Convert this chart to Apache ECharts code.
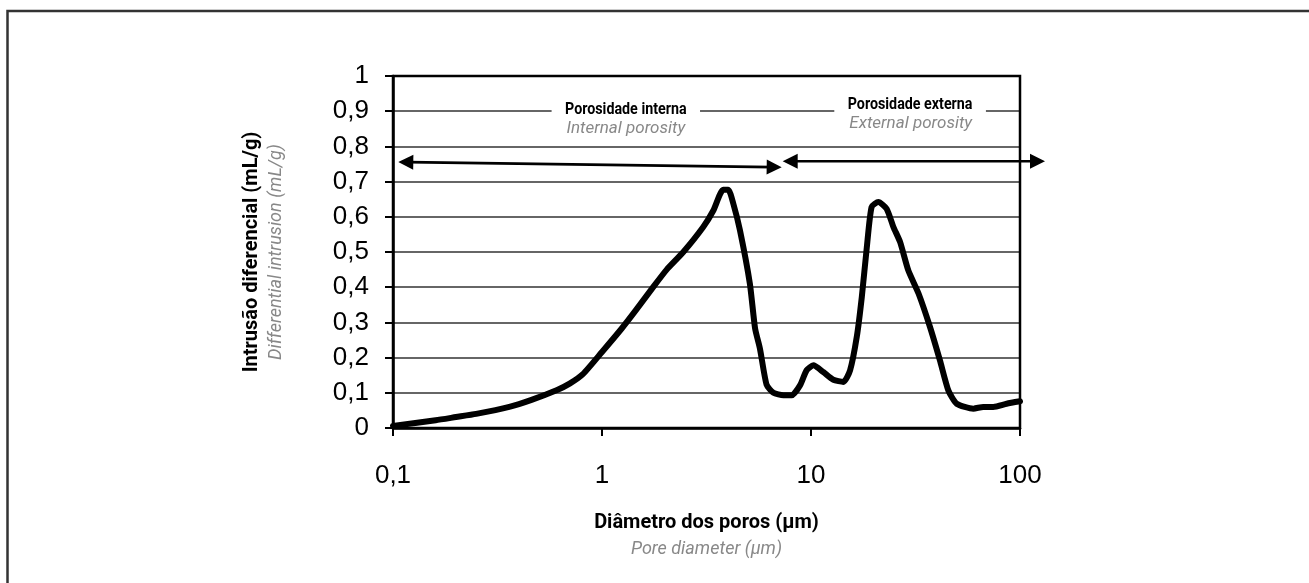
<!DOCTYPE html>
<html><head><meta charset="utf-8">
<script src="https://cdn.jsdelivr.net/npm/echarts@6/dist/echarts.min.js"></script>
<style>html,body{margin:0;padding:0;background:#fff}#c{width:1309px;height:583px}</style>
</head><body><div id="c"></div>
<script>
// ---- data ----
const poreDiameter = [0.1, 0.16, 0.2, 0.25, 0.36, 0.46, 0.61, 0.7, 0.81, 1.0, 1.24, 1.45, 1.76, 2.04, 2.45, 3.05, 3.41, 3.8, 4.02, 4.25, 4.57, 5.1, 5.4, 5.7, 6.13, 6.61, 7.38, 8.09, 8.86, 9.53, 10.26, 11.45, 12.79, 14.28, 15.38, 16.56, 17.5, 18.5, 19.5, 21.0, 23.0, 24.8, 26.7, 29.2, 32.7, 37.1, 41.4, 45.4, 49.8, 59.8, 66.7, 74.5, 86.3, 100];
const diffIntrusion = [0.006, 0.022, 0.031, 0.04, 0.06, 0.08, 0.108, 0.126, 0.153, 0.216, 0.282, 0.334, 0.401, 0.45, 0.5, 0.571, 0.618, 0.677, 0.677, 0.637, 0.562, 0.41, 0.283, 0.225, 0.123, 0.1, 0.093, 0.093, 0.121, 0.164, 0.178, 0.159, 0.137, 0.131, 0.164, 0.259, 0.372, 0.514, 0.628, 0.642, 0.623, 0.571, 0.528, 0.448, 0.382, 0.287, 0.192, 0.107, 0.069, 0.055, 0.06, 0.06, 0.069, 0.076];
const xTickValues = [0.1, 1, 10, 100];
const xTickLabels = ['0,1', '1', '10', '100'];
const yTickLabels = ['0', '0,1', '0,2', '0,3', '0,4', '0,5', '0,6', '0,7', '0,8', '0,9', '1'];
const xAxisTitle = 'Diâmetro dos poros (μm)';
const xAxisSubtitle = 'Pore diameter (μm)';
const yAxisTitle = 'Intrusão diferencial (mL/g)';
const yAxisSubtitle = 'Differential intrusion (mL/g)';
// annotations (data coordinates)
const annotationTexts = ['Porosidade interna', 'Internal porosity', 'Porosidade externa', 'External porosity'];
const annotationX = [1.30, 1.30, 29.8, 30.0];
const annotationY = [0.905, 0.849, 0.917, 0.863];
const annotationKind = ['pt', 'en', 'pt', 'en'];
// double-headed arrows (data coordinates)
const arrowStartX = [0.106, 7.32];
const arrowStartY = [0.7557, 0.7577];
const arrowEndX = [7.24, 131.7];
const arrowEndY = [0.7406, 0.7577];

// ---- chart ----
const NARROW = 'Roboto, "DejaVu Sans Condensed", sans-serif';
const SANS = '"Liberation Sans", Arial, sans-serif';
const chart = echarts.init(document.getElementById('c'), null, {renderer: 'canvas'});

const option = {
  animation: false,
  backgroundColor: '#fff',
  grid: {left: 393, top: 76, width: 627, height: 352, show: false},
  xAxis: {
    type: 'log', logBase: 10, min: 0.1, max: 100,
    axisLine: {show: true, lineStyle: {color: '#000', width: 2.5}},
    axisTick: {show: true, length: 8, lineStyle: {color: '#000', width: 2}},
    minorTick: {show: false},
    splitLine: {show: false},
    axisLabel: {
      margin: 35, fontFamily: SANS, fontSize: 26, color: '#000',
      formatter: v => { const i = xTickValues.findIndex(t => Math.abs(t - v) / t < 1e-6); return i >= 0 ? xTickLabels[i] : ''; }
    },
    name: '{a|' + xAxisTitle + '}\n{b|' + xAxisSubtitle + '}',
    nameLocation: 'middle', nameGap: 82,
    nameTextStyle: {
      align: 'center',
      rich: {
        a: {fontFamily: NARROW, fontWeight: 'bold', fontSize: 20, color: '#000', lineHeight: 26, align: 'center'},
        b: {fontFamily: NARROW, fontStyle: 'italic', fontSize: 18, color: '#888', lineHeight: 26, align: 'center'}
      }
    }
  },
  yAxis: {
    type: 'value', min: 0, max: 1, interval: 0.1,
    axisLine: {show: true, lineStyle: {color: '#000', width: 2.5}},
    axisTick: {show: true, length: 8, lineStyle: {color: '#000', width: 2}},
    splitLine: {show: true, lineStyle: {color: '#666', width: 2}},
    axisLabel: {
      margin: 24, fontFamily: SANS, fontSize: 26, color: '#000',
      formatter: v => yTickLabels[Math.round(v * 10)]
    },
    name: '{a|' + yAxisTitle + '}\n{b|' + yAxisSubtitle + '}',
    nameLocation: 'middle', nameGap: 104,
    nameTextStyle: {
      align: 'center',
      rich: {
        a: {fontFamily: NARROW, fontWeight: 'bold', fontSize: 20, color: '#000', lineHeight: 25, align: 'center'},
        b: {fontFamily: NARROW, fontStyle: 'italic', fontSize: 18, color: '#888', lineHeight: 25, align: 'center'}
      }
    }
  },
  series: [{
    type: 'line',
    data: poreDiameter.map((d, i) => [d, diffIntrusion[i]]),
    showSymbol: false,
    smooth: 0.2,
    clip: false,
    lineStyle: {color: '#000', width: 6, join: 'round', cap: 'round'},
    z: 5
  }]
};
chart.setOption(option);

function px(x, y) { return chart.convertToPixel({gridIndex: 0}, [x, y]); }

const graphics = [];
// outer frame (top and left edges of the figure)
graphics.push({type: 'polyline', silent: true, z: 1, shape: {points: [[7.5, 583], [7.5, 11], [1309, 11]]}, style: {stroke: '#333', lineWidth: 2.5, fill: null}});
// plot frame drawn above the grid lines
const tl = px(0.1, 1), br = px(100, 0);
graphics.push({type: 'rect', silent: true, z: 3, shape: {x: tl[0], y: tl[1], width: br[0] - tl[0], height: br[1] - tl[1]}, style: {stroke: '#000', lineWidth: 2.5, fill: null}});

function head(tip, from) {
  const dx = tip[0] - from[0], dy = tip[1] - from[1];
  const L = Math.hypot(dx, dy), ux = dx / L, uy = dy / L;
  const hl = 15, hw = 7.5;
  const bx = tip[0] - ux * hl, by = tip[1] - uy * hl;
  return [[tip[0], tip[1]], [bx - uy * hw, by + ux * hw], [bx + uy * hw, by - ux * hw]];
}
for (let i = 0; i < arrowStartX.length; i++) {
  const a = px(arrowStartX[i], arrowStartY[i]);
  const b = px(arrowEndX[i], arrowEndY[i]);
  const dx = b[0] - a[0], dy = b[1] - a[1], L = Math.hypot(dx, dy);
  const ux = dx / L, uy = dy / L;
  graphics.push({type: 'line', silent: true, z: 20, shape: {x1: a[0] + ux * 10, y1: a[1] + uy * 10, x2: b[0] - ux * 10, y2: b[1] - uy * 10}, style: {stroke: '#000', lineWidth: 2.6}});
  graphics.push({type: 'polygon', silent: true, z: 20, shape: {points: head(a, b)}, style: {fill: '#000'}});
  graphics.push({type: 'polygon', silent: true, z: 20, shape: {points: head(b, a)}, style: {fill: '#000'}});
}
for (let i = 0; i < annotationTexts.length; i++) {
  const p = px(annotationX[i], annotationY[i]);
  const pt = annotationKind[i] === 'pt';
  graphics.push({
    type: 'text', silent: true, z: 20, x: p[0], y: p[1],
    scaleX: pt ? 0.84 : 1,
    style: {
      text: annotationTexts[i],
      fontFamily: NARROW,
      fontSize: pt ? 17 : 17,
      fontWeight: pt ? 'bold' : 'normal',
      fontStyle: pt ? 'normal' : 'italic',
      fill: pt ? '#000' : '#888',
      align: 'center', verticalAlign: 'middle',
      backgroundColor: pt ? '#fff' : 'transparent',
      padding: pt ? [2, 16] : 0
    }
  });
}
chart.setOption({graphic: graphics});
</script>
</body></html>
